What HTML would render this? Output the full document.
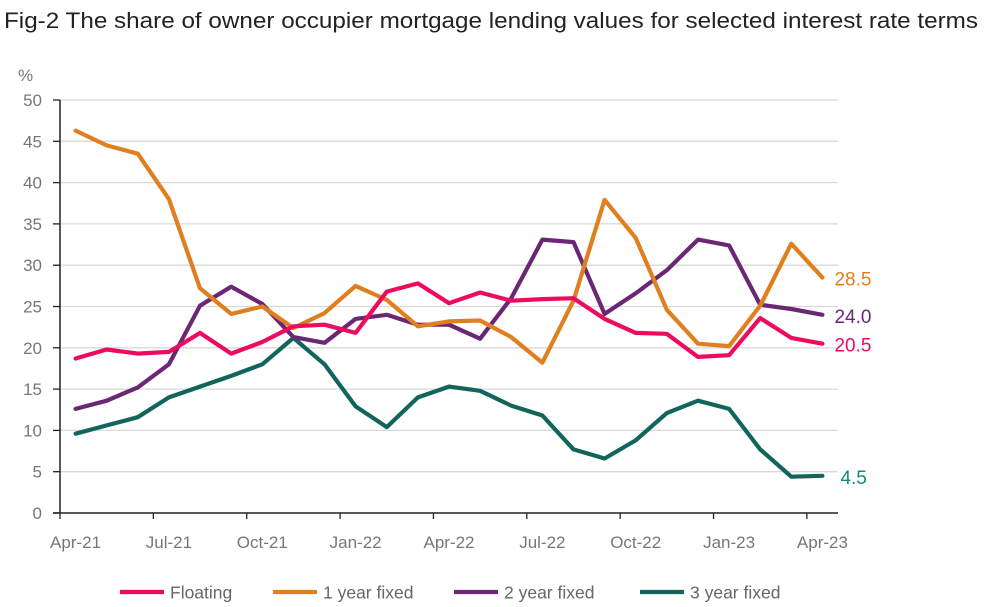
<!DOCTYPE html>
<html><head><meta charset="utf-8"><style>
body{margin:0;background:#fff;}
svg{display:block;font-family:"Liberation Sans",sans-serif;}
</style></head><body>
<svg id="chart" width="988" height="607" viewBox="0 0 988 607" xmlns="http://www.w3.org/2000/svg">
<text x="4" y="28" font-size="22" fill="#222" textLength="974" lengthAdjust="spacingAndGlyphs">Fig-2 The share of owner occupier mortgage lending values for selected interest rate terms</text>
<text x="18" y="81" font-size="17" fill="#777">%</text>
<g id="grid"></g><g id="axes"></g><g id="series"></g><g id="legend"></g>
</svg>
<script>
const categories=["Apr-21","May-21","Jun-21","Jul-21","Aug-21","Sep-21","Oct-21","Nov-21","Dec-21","Jan-22","Feb-22","Mar-22","Apr-22","May-22","Jun-22","Jul-22","Aug-22","Sep-22","Oct-22","Nov-22","Dec-22","Jan-23","Feb-23","Mar-23","Apr-23"];
const floating=[18.7,19.8,19.3,19.5,21.8,19.3,20.7,22.6,22.8,21.8,26.8,27.8,25.4,26.7,25.7,25.9,26.0,23.5,21.8,21.7,18.9,19.1,23.6,21.2,20.5];
const fixed1=[46.3,44.5,43.5,38,27.2,24.1,25,22.4,24.2,27.5,25.8,22.6,23.2,23.3,21.3,18.2,25.7,37.9,33.3,24.6,20.5,20.2,25.1,32.6,28.5];
const fixed2=[12.6,13.6,15.2,18,25.1,27.4,25.3,21.3,20.6,23.5,24,22.8,22.8,21.1,26,33.1,32.8,24.1,26.6,29.4,33.1,32.4,25.2,24.7,24.0];
const fixed3=[9.6,10.6,11.6,14,15.3,16.6,18,21.2,18,12.9,10.4,14,15.3,14.8,13,11.8,7.7,6.6,8.8,12.1,13.6,12.6,7.7,4.4,4.5];
const yTicks=[0,5,10,15,20,25,30,35,40,45,50];
const seriesNames=["Floating","1 year fixed","2 year fixed","3 year fixed"];
const endLabels=["20.5","28.5","24.0","4.5"];

const NS="http://www.w3.org/2000/svg";
const X0=60,X1=838,Y0=513,Y1=100;
const bw=(X1-X0)/categories.length;
const x=i=>X0+bw*(i+0.5);
const y=v=>Y0-(v/50)*(Y0-Y1);
function mk(tag,attrs,parent){const e=document.createElementNS(NS,tag);for(const k in attrs)e.setAttribute(k,attrs[k]);parent.appendChild(e);return e;}
const grid=document.getElementById('grid'),axes=document.getElementById('axes'),ser=document.getElementById('series'),leg=document.getElementById('legend');
yTicks.forEach(t=>{
  if(t>0){const g=mk('line',{x1:X0,x2:X1,y1:y(t),y2:y(t),stroke:'#d9d9d9','stroke-width':1.3},grid);
  
  }
  const tk=mk('line',{x1:X0-7,x2:X0,y1:y(t),y2:y(t),stroke:'#222','stroke-width':1.3},axes);
  
  
  const lb=mk('text',{x:X0-18,y:y(t)+6,'font-size':17,fill:'#777','text-anchor':'end'},axes);lb.textContent=t;
  
  
});
const ya=mk('line',{x1:X0,x2:X0,y1:Y1,y2:Y0,stroke:'#222','stroke-width':1.5},axes);


const xa=mk('line',{x1:X0-7,x2:X1,y1:Y0,y2:Y0,stroke:'#222','stroke-width':1.5},axes);


categories.forEach((c,i)=>{
  if(i%3!==0)return;
  const tk=mk('line',{x1:X0+bw*i,x2:X0+bw*i,y1:Y0,y2:Y0+6,stroke:'#222','stroke-width':1.3},axes);
  
  
  const lb=mk('text',{x:x(i),y:Y0+35,'font-size':17,fill:'#777','text-anchor':'middle'},axes);lb.textContent=c;
  
  
});
const data=[floating,fixed1,fixed2,fixed3];
const colors=['#ee0a5e','#e07f1f','#6b2674','#11655a'];
const labelColors=['#ee0a5e','#e07f1f','#6b2674','#138a7a'];
const ids=['floating','1-year-fixed','2-year-fixed','3-year-fixed'];
[3,2,1,0].forEach(s=>{
  const d=data[s].map((v,i)=>(i?'L':'M')+x(i).toFixed(1)+','+y(v).toFixed(1)).join('');
  const p=mk('path',{d:d,fill:'none',stroke:colors[s],'stroke-width':4.2,'stroke-linejoin':'round','stroke-linecap':'round'},ser);
  
  
});
const endOff=[[12,8],[12,8],[12,8],[18,8]];
data.forEach((arr,s)=>{
  const n=arr.length-1;
  const t=mk('text',{x:x(n)+endOff[s][0],y:y(arr[n])+endOff[s][1],'font-size':19,fill:labelColors[s]},ser);
  t.textContent=endLabels[s];
  
  
});
const legX=[120,273,454,640];
seriesNames.forEach((nm,s)=>{
  const g=mk('g',{},leg);
  
  
  mk('line',{x1:legX[s],x2:legX[s]+44,y1:592,y2:592,stroke:colors[s],'stroke-width':4.2},g);
  const t=mk('text',{x:legX[s]+50,y:598.5,'font-size':17.5,fill:'#666'},g);t.textContent=nm;
});
</script>
</body></html>
